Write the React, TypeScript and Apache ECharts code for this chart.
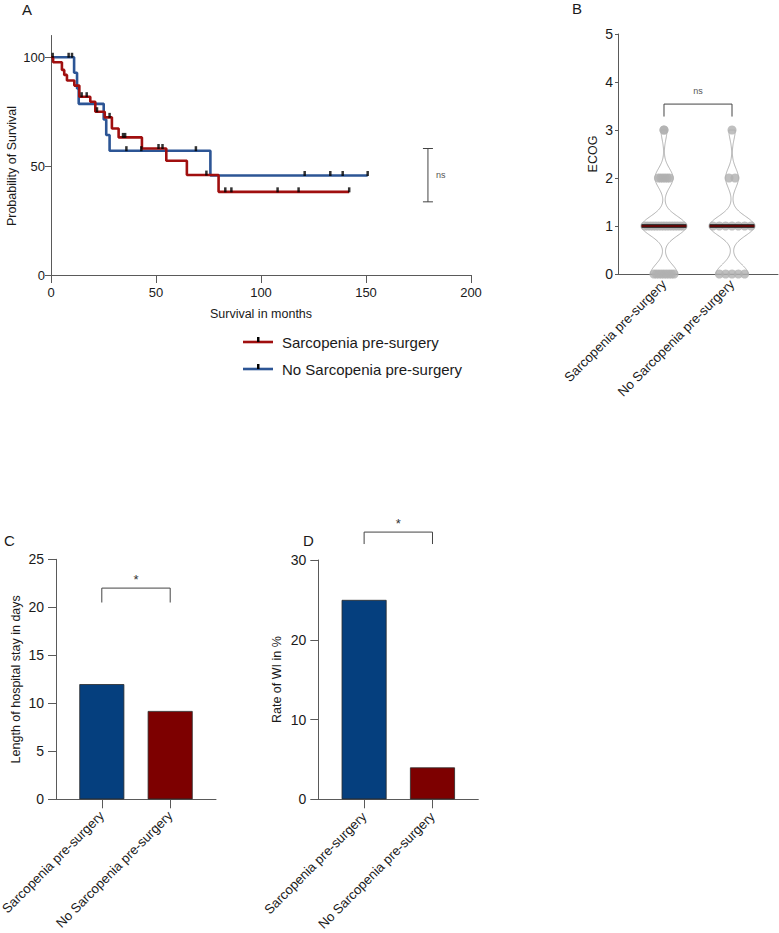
import React, { useEffect, useRef } from "react";
import * as echarts from "echarts";

const FONT = '"Liberation Sans", Arial, Helvetica, sans-serif';
const RED = "#a00f0f";
const BLUE = "#2c5595";
const BAR_BLUE = "#053f7e";
const BAR_RED = "#7d0000";
const AXIS = "#5a5a5a";
const TEXT = "#1a1a1a";

// ---- A: Kaplan–Meier estimates (months, % surviving after each drop) ----
const sarcTimes = [0, 1, 5.2, 6.3, 7.6, 11.1, 13.5, 18.7, 21.1, 25.6, 29.0, 32.2, 43.3, 54.9, 64.7, 79.8, 142];
const sarcSurv = [100, 97.7, 94.2, 91.9, 89.3, 87.0, 81.9, 79.6, 75.0, 72.4, 67.3, 63.2, 58.1, 52.5, 45.9, 38.2, 38.2];
const sarcCensored = [0.8, 14.6, 17.0, 21.9, 27.9, 34.3, 35.3, 51.2, 53.1, 74.0, 83.0, 85.9, 107.9, 117.9, 142];

const noSarcTimes = [0, 11.0, 12.4, 13.2, 25.1, 26.3, 27.9, 75.9, 150.8];
const noSarcSurv = [100, 92.9, 85.7, 78.6, 71.4, 64.3, 57.1, 45.7, 45.7];
const noSarcCensored = [8.4, 10.0, 35.9, 43.0, 69.0, 120.8, 133.0, 138.9, 150.8];

const kmTest = [179.5, 33.6, 58.1]; // month, lower %, upper %
const kmTestLabel = "ns";

// ---- shared group names ----
const groups = ["Sarcopenia pre-surgery", "No Sarcopenia pre-surgery"];

// ---- B: ECOG distribution (patients per ECOG score) ----
const ecogLevels = [0, 1, 2, 3];
const ecogSarc = [9, 15, 6, 2];
const ecogNoSarc = [5, 7, 2, 1];
const ecogTest = [0, 1, 3.54, 3.28];
const ecogTestLabel = "ns";

// ---- C / D: bar values ----
const stayDays = [12, 9.2];
const stayTest = [0, 1, 22, 20.5];
const stayTestLabel = "*";

const wiRate = [25, 4];
const wiTest = [0, 1, 33.5, 32];
const wiTestLabel = "*";

// ---------------------------------------------------------------------
const survAt = (times: number[], surv: number[], t: number) => {
  let s = surv[0];
  for (let i = 0; i < times.length; i++) if (times[i] <= t) s = surv[i];
  return s;
};

const VIOLIN_HALF = 0.33; // widest half-width, x-axis units
const BW = 0.2;
const density = (counts: number[], y: number) =>
  counts.reduce((acc, c, i) => acc + c * Math.exp(-0.5 * ((y - ecogLevels[i]) / BW) ** 2), 0);
const violinRange = (counts: number[]) => {
  const idx = counts.map((c, i) => (c > 0 ? i : -1)).filter((i) => i >= 0);
  return [ecogLevels[idx[0]], ecogLevels[idx[idx.length - 1]]];
};
const violinMax = (counts: number[]) => {
  const [lo, hi] = violinRange(counts);
  let m = 0;
  for (let k = 0; k <= 200; k++) m = Math.max(m, density(counts, lo + ((hi - lo) * k) / 200));
  return m;
};
const halfWidth = (counts: number[], y: number) => (VIOLIN_HALF * density(counts, y)) / violinMax(counts);
const median = (counts: number[]) => {
  const vals: number[] = [];
  counts.forEach((c, i) => {
    for (let j = 0; j < c; j++) vals.push(ecogLevels[i]);
  });
  const n = vals.length;
  return n % 2 ? vals[(n - 1) / 2] : (vals[n / 2 - 1] + vals[n / 2]) / 2;
};
const ecogGroups = [ecogSarc, ecogNoSarc];

// points of each score spread across the violin's width at that score
const dotData = () => {
  const out: number[][] = [];
  ecogGroups.forEach((counts, g) => {
    counts.forEach((c, i) => {
      const y = ecogLevels[i];
      const hw = Math.max(0, halfWidth(counts, y) - 0.05);
      for (let j = 0; j < c; j++) {
        const x = c > 1 ? g - hw + (2 * hw * j) / (c - 1) : g;
        out.push([x, y]);
      }
    });
  });
  return out;
};

const axisBase = {
  axisLine: { show: true, onZero: false, lineStyle: { color: AXIS, width: 1 } },
  axisTick: { show: true, length: 6, lineStyle: { color: AXIS, width: 1 } },
  splitLine: { show: false },
  nameTextStyle: { fontFamily: FONT, fontSize: 12.5, color: TEXT },
};
const lbl = (size: number, extra: object = {}) => ({ fontFamily: FONT, fontSize: size, color: TEXT, ...extra });

const catLabels = (margin: number) => ({
  customValues: [0, 1],
  formatter: (v: number) => groups[Math.round(v)],
  rotate: 45,
  margin,
  ...lbl(13.2),
});

const bracketSeries = (xi: number, item: number[], label: string, size: number, color: string, lift: number) => ({
  type: "custom",
  xAxisIndex: xi,
  yAxisIndex: xi,
  clip: false,
  silent: true,
  data: [item],
  encode: { x: [0, 1], y: [2, 3] },
  renderItem: (_p: any, api: any) => {
    const [x0, x1, yt, yd] = item;
    const a = api.coord([x0, yd]);
    const b = api.coord([x0, yt]);
    const c = api.coord([x1, yt]);
    const d = api.coord([x1, yd]);
    return {
      type: "group",
      children: [
        { type: "polyline", shape: { points: [a, b, c, d] }, style: { stroke: "#444", lineWidth: 1, fill: "none" } },
        {
          type: "text",
          x: (b[0] + c[0]) / 2,
          y: b[1] - lift,
          style: { text: label, align: "center", verticalAlign: "middle", fontSize: size, fill: color, fontFamily: FONT },
        },
      ],
    };
  },
});

const buildOption = () => ({
  animation: false,
  backgroundColor: "#ffffff",
  grid: [
    { left: 51, top: 35.5, width: 420, height: 239.5, containLabel: false, outerBoundsMode: "none" },
    { left: 618, top: 34, width: 160, height: 240, containLabel: false, outerBoundsMode: "none" },
    { left: 56, top: 559.3, width: 160, height: 240, containLabel: false, outerBoundsMode: "none" },
    { left: 318.3, top: 560, width: 160, height: 239.3, containLabel: false, outerBoundsMode: "none" },
  ],
  xAxis: [
    {
      ...axisBase,
      gridIndex: 0,
      type: "value",
      min: 0,
      max: 200,
      interval: 50,
      axisTick: { ...axisBase.axisTick, length: 8 },
      axisLabel: lbl(13, { margin: 11 }),
      name: "Survival in months",
      nameLocation: "middle",
      nameGap: 32,
    },
    {
      ...axisBase,
      gridIndex: 1,
      type: "value",
      min: -0.676,
      max: 1.676,
      axisTick: { show: false },
      axisLabel: catLabels(8),
    },
    {
      ...axisBase,
      gridIndex: 2,
      type: "value",
      min: -0.67,
      max: 1.67,
      axisTick: { ...axisBase.axisTick, length: 9, customValues: [0, 1] },
      axisLabel: catLabels(14),
    },
    {
      ...axisBase,
      gridIndex: 3,
      type: "value",
      min: -0.67,
      max: 1.67,
      axisTick: { ...axisBase.axisTick, length: 9, customValues: [0, 1] },
      axisLabel: catLabels(15),
    },
  ],
  yAxis: [
    {
      ...axisBase,
      gridIndex: 0,
      type: "value",
      min: 0,
      max: 110,
      axisTick: { ...axisBase.axisTick, length: 6, customValues: [0, 50, 100] },
      axisLabel: lbl(13, { customValues: [0, 50, 100], margin: 6 }),
    },
    {
      ...axisBase,
      gridIndex: 1,
      type: "value",
      min: 0,
      max: 5,
      interval: 1,
      axisTick: { ...axisBase.axisTick, length: 3 },
      axisLabel: lbl(14, { margin: 5 }),
      name: "ECOG",
      nameLocation: "middle",
      nameGap: 19,
    },
    {
      ...axisBase,
      gridIndex: 2,
      type: "value",
      min: 0,
      max: 25,
      interval: 5,
      axisTick: { ...axisBase.axisTick, length: 8 },
      axisLabel: lbl(14, { margin: 12 }),
      name: "Length of hospital stay in days",
      nameLocation: "middle",
      nameGap: 34,
    },
    {
      ...axisBase,
      gridIndex: 3,
      type: "value",
      min: 0,
      max: 30,
      interval: 10,
      axisTick: { ...axisBase.axisTick, length: 8 },
      axisLabel: lbl(14, { margin: 12 }),
      name: "Rate of WI in %",
      nameLocation: "middle",
      nameGap: 35,
    },
  ],
  series: [
    // A — survival curves
    {
      type: "line",
      xAxisIndex: 0,
      yAxisIndex: 0,
      step: "end",
      symbol: "none",
      data: sarcTimes.map((t, i) => [t, sarcSurv[i]]),
      lineStyle: { color: RED, width: 2.6 },
      z: 3,
    },
    {
      type: "line",
      xAxisIndex: 0,
      yAxisIndex: 0,
      step: "end",
      symbol: "none",
      data: noSarcTimes.map((t, i) => [t, noSarcSurv[i]]),
      lineStyle: { color: BLUE, width: 2.6 },
      z: 2,
    },
    {
      type: "scatter",
      xAxisIndex: 0,
      yAxisIndex: 0,
      symbol: "rect",
      symbolSize: [2.5, 5],
      symbolOffset: [0, -2],
      data: sarcCensored.map((t) => [t, survAt(sarcTimes, sarcSurv, t)]),
      itemStyle: { color: "#000" },
      z: 5,
    },
    {
      type: "scatter",
      xAxisIndex: 0,
      yAxisIndex: 0,
      symbol: "rect",
      symbolSize: [2.5, 5],
      symbolOffset: [0, -2],
      data: noSarcCensored.map((t) => [t, survAt(noSarcTimes, noSarcSurv, t)]),
      itemStyle: { color: "#000" },
      z: 5,
    },
    {
      type: "custom",
      xAxisIndex: 0,
      yAxisIndex: 0,
      clip: false,
      silent: true,
      data: [kmTest],
      encode: { x: 0, y: [1, 2] },
      renderItem: (_p: any, api: any) => {
        const [x, lo, hi] = kmTest;
        const top = api.coord([x, hi]);
        const bot = api.coord([x, lo]);
        const s = { stroke: "#444", lineWidth: 1 };
        return {
          type: "group",
          children: [
            { type: "line", shape: { x1: top[0], y1: top[1], x2: bot[0], y2: bot[1] }, style: s },
            { type: "line", shape: { x1: top[0] - 5, y1: top[1], x2: top[0] + 5, y2: top[1] }, style: s },
            { type: "line", shape: { x1: bot[0] - 5, y1: bot[1], x2: bot[0] + 5, y2: bot[1] }, style: s },
            {
              type: "text",
              x: top[0] + 8,
              y: (top[1] + bot[1]) / 2,
              style: { text: kmTestLabel, align: "left", verticalAlign: "middle", fontSize: 9, fill: "#555", fontFamily: FONT },
            },
          ],
        };
      },
    },
    // B — violins
    {
      type: "custom",
      xAxisIndex: 1,
      yAxisIndex: 1,
      silent: true,
      data: [
        [0, 0],
        [1, 0],
      ],
      encode: { x: 0, y: 1 },
      renderItem: (p: any, api: any) => {
        const g = p.dataIndex;
        const counts = ecogGroups[g];
        const [lo, hi] = violinRange(counts);
        const right: number[][] = [];
        const left: number[][] = [];
        const n = 160;
        for (let k = 0; k <= n; k++) {
          const y = lo + ((hi - lo) * k) / n;
          const w = halfWidth(counts, y);
          right.push(api.coord([g + w, y]));
          left.push(api.coord([g - w, y]));
        }
        return {
          type: "polygon",
          shape: { points: right.concat(left.reverse()) },
          style: { fill: "none", stroke: "#a0a0a0", lineWidth: 0.8 },
        };
      },
      z: 2,
    },
    {
      type: "scatter",
      xAxisIndex: 1,
      yAxisIndex: 1,
      symbol: "circle",
      symbolSize: 9,
      data: dotData(),
      itemStyle: { color: "#b0b0b0" },
      z: 3,
    },
    {
      type: "custom",
      xAxisIndex: 1,
      yAxisIndex: 1,
      silent: true,
      data: [
        [0, median(ecogSarc)],
        [1, median(ecogNoSarc)],
      ],
      encode: { x: 0, y: 1 },
      renderItem: (p: any, api: any) => {
        const g = p.dataIndex;
        const counts = ecogGroups[g];
        const m = median(counts);
        const w = halfWidth(counts, m);
        const a = api.coord([g - w, m]);
        const b = api.coord([g + w, m]);
        return {
          type: "group",
          children: [
            { type: "line", shape: { x1: a[0], y1: a[1], x2: b[0], y2: b[1] }, style: { stroke: "#111", lineWidth: 3.5 } },
            { type: "line", shape: { x1: a[0], y1: a[1], x2: b[0], y2: b[1] }, style: { stroke: "#b00000", lineWidth: 1 } },
          ],
        };
      },
      z: 4,
    },
    bracketSeries(1, ecogTest, ecogTestLabel, 9, "#555", 13),
    // C — hospital stay
    {
      type: "bar",
      xAxisIndex: 2,
      yAxisIndex: 2,
      barWidth: 45,
      data: stayDays.map((v, i) => ({
        value: [i, v],
        itemStyle: { color: i === 0 ? BAR_BLUE : BAR_RED, borderColor: "#2a2a2a", borderWidth: 0.8 },
      })),
    },
    bracketSeries(2, stayTest, stayTestLabel, 13, "#333", 9),
    // D — wound infection rate
    {
      type: "bar",
      xAxisIndex: 3,
      yAxisIndex: 3,
      barWidth: 45,
      data: wiRate.map((v, i) => ({
        value: [i, v],
        itemStyle: { color: i === 0 ? BAR_BLUE : BAR_RED, borderColor: "#2a2a2a", borderWidth: 0.8 },
      })),
    },
    bracketSeries(3, wiTest, wiTestLabel, 13, "#333", 9),
  ],
  graphic: [
    { type: "text", left: 22, top: 2, style: { text: "A", fontSize: 15, fill: TEXT, fontFamily: FONT } },
    { type: "text", left: 572, top: 1, style: { text: "B", fontSize: 15, fill: TEXT, fontFamily: FONT } },
    { type: "text", left: 4, top: 533, style: { text: "C", fontSize: 15, fill: TEXT, fontFamily: FONT } },
    { type: "text", left: 303, top: 533, style: { text: "D", fontSize: 15, fill: TEXT, fontFamily: FONT } },
    // y-axis title of the survival plot, centred on the 0–100 span
    {
      type: "text",
      x: 12,
      y: 166,
      rotation: Math.PI / 2,
      style: {
        text: "Probability of Survival",
        fontSize: 12.5,
        fill: TEXT,
        fontFamily: FONT,
        align: "center",
        verticalAlign: "middle",
      },
    },
    // legend for the survival curves
    { type: "line", shape: { x1: 243, y1: 342, x2: 273, y2: 342 }, style: { stroke: RED, lineWidth: 2.6 } },
    { type: "rect", shape: { x: 257, y: 337, width: 2.5, height: 5 }, style: { fill: "#000" } },
    {
      type: "text",
      x: 282,
      y: 342,
      style: { text: groups[0], fontSize: 15, fill: TEXT, fontFamily: FONT, verticalAlign: "middle" },
    },
    { type: "line", shape: { x1: 243, y1: 369, x2: 273, y2: 369 }, style: { stroke: BLUE, lineWidth: 2.6 } },
    { type: "rect", shape: { x: 257, y: 364, width: 2.5, height: 5 }, style: { fill: "#000" } },
    {
      type: "text",
      x: 282,
      y: 369,
      style: { text: groups[1], fontSize: 15, fill: TEXT, fontFamily: FONT, verticalAlign: "middle" },
    },
  ],
});

const App = () => {
  const ref = useRef<HTMLDivElement>(null);
  useEffect(() => {
    const chart = echarts.init(ref.current as HTMLDivElement, null, { renderer: "svg" });
    chart.setOption(buildOption() as any);
    return () => chart.dispose();
  }, []);
  return (
    <div
      ref={ref}
      style={{ position: "absolute", left: 0, top: 0, width: 779, height: 933, background: "#ffffff" }}
    />
  );
};

export default App;
